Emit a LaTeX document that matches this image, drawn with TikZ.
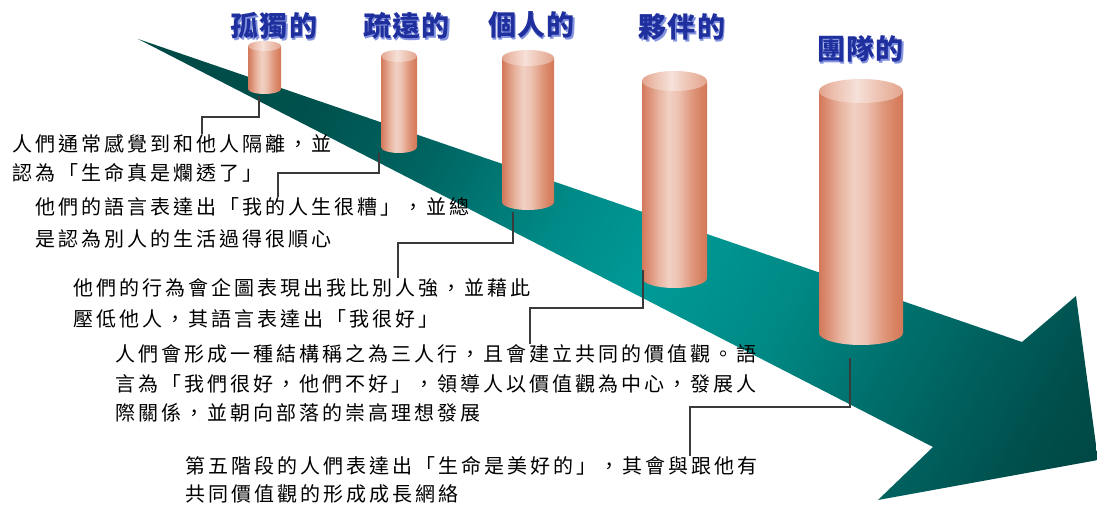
\documentclass[tikz,border=0pt]{standalone}
\usepackage{fontspec}
\newfontfamily\cjkbody{Noto Sans CJK TC}[LetterSpace=15]
\newfontfamily\cjkhead{Noto Sans CJK TC}[LetterSpace=4]

% teal ramp for the big arrow
\definecolor{tealA}{HTML}{004A46}
\definecolor{tealB}{HTML}{00524E}
\definecolor{tealC}{HTML}{006562}
\definecolor{tealD}{HTML}{008A87}
\definecolor{tealE}{HTML}{009A96}
\definecolor{tealDD}{HTML}{008884}
\definecolor{tealF}{HTML}{007370}
\definecolor{tealG}{HTML}{00605D}
\definecolor{tealH}{HTML}{004E4B}
\definecolor{tealI}{HTML}{00413F}
% salmon ramp for the columns
\definecolor{cylA}{HTML}{D3785B}
\definecolor{cylB}{HTML}{DC8F75}
\definecolor{cylC}{HTML}{E8B49F}
\definecolor{cylD}{HTML}{F1D0C3}
\definecolor{cylE}{HTML}{EDC3B3}
\definecolor{cylF}{HTML}{E09A80}
\definecolor{cylG}{HTML}{D7805F}
\definecolor{capA}{HTML}{E3A48D}
\definecolor{capB}{HTML}{EEC3B3}
\definecolor{capC}{HTML}{F6E1D9}
\definecolor{capD}{HTML}{EEC4B4}
% lettering
\definecolor{headblue}{HTML}{1F2F9E}
\definecolor{headglow}{HTML}{8393DE}
\definecolor{connc}{HTML}{3A3A3A}

\pgfdeclarehorizontalshading{arrowshade}{100bp}{color(0bp)=(tealA); color(18bp)=(tealA); color(28bp)=(tealB); color(36bp)=(tealC); color(45bp)=(tealD); color(52bp)=(tealE); color(61bp)=(tealDD); color(67bp)=(tealF); color(73bp)=(tealG); color(79bp)=(tealH); color(87bp)=(tealI); color(100bp)=(tealI)}
\pgfdeclarehorizontalshading{cylbody}{100bp}{color(0bp)=(cylA); color(25bp)=(cylA); color(30bp)=(cylB); color(37.5bp)=(cylC); color(45.5bp)=(cylD); color(52.5bp)=(cylE); color(62.5bp)=(cylF); color(71bp)=(cylG); color(75bp)=(cylA); color(100bp)=(cylA)}
\pgfdeclarehorizontalshading{cylcap}{100bp}{color(0bp)=(capA); color(25bp)=(capA); color(35bp)=(capB); color(47.5bp)=(capC); color(60bp)=(capD); color(75bp)=(capA); color(100bp)=(capA)}

% column: centre x, top y, bottom y, x radius, y radius, name
\newcommand\column[6]{%
  \shade[shading=cylbody] (#1-#4,#2+#5) -- (#1-#4,#3-#5)
    arc[start angle=180, end angle=0, x radius=#4, y radius=#5] -- (#1+#4,#2+#5) -- cycle;
  \shade[shading=cylcap] (#1,#2+#5) ellipse [x radius=#4, y radius=#5];
  \coordinate (#6) at (#1,#3);
}

\tikzset{
  conn/.style={draw=connc, line width=1.2pt},
  bodytext/.style={anchor=west, inner sep=0pt, text=black, font=\cjkbody\fontsize{20}{24}\selectfont},
  headtext/.style={inner sep=0pt, text=headblue, font=\cjkhead\bfseries\fontsize{28}{32}\selectfont},
  headshadow/.style={headtext, text=headglow},
}

\begin{document}
\begin{tikzpicture}[x=1pt, y=-1pt]
\useasboundingbox[fill=white] (0,0) rectangle (1097,508);

% the arrow running from the thin tail to the head
\shade[shading=arrowshade, shading angle=-30]
  (138,39) -- (1022,342) -- (1076,296) -- (1098,460) -- (878,500) -- (933,447) -- cycle;

% columns
\column{264.5}{41}{94}{16.5}{5}{col1}
\column{399}{50}{153}{18}{6}{col2}
\column{528}{50}{210}{26}{8}{col3}
\column{674.5}{71}{288}{32.5}{10}{col4}
\column{861}{79}{345}{42}{12}{col5}

% headings
\foreach \n/\x/\y/\t in {1/274/26/孤獨的, 2/406.5/26/疏遠的, 3/531.5/25/個人的, 4/682/27/夥伴的, 5/860.5/49/團隊的}{
  \node[headshadow] (h\n s) at (\x+1.5,\y+1.5) {\t};
  \node[headtext] (h\n) at (\x,\y) {\t};
}

% descriptions
\node[bodytext] (b1a) at (12,143.5) {人們通常感覺到和他人隔離，並};
\node[bodytext] (b1b) at (12,172.5) {認為「生命真是爛透了」};
\node[bodytext] (b2a) at (35,207) {他們的語言表達出「我的人生很糟」，並總};
\node[bodytext] (b2b) at (35,238.5) {是認為別人的生活過得很順心};
\node[bodytext] (b3a) at (73,288) {他們的行為會企圖表現出我比別人強，並藉此};
\node[bodytext] (b3b) at (73,319) {壓低他人，其語言表達出「我很好」};
\node[bodytext] (b4a) at (115,354) {人們會形成一種結構稱之為三人行，且會建立共同的價值觀。語};
\node[bodytext] (b4b) at (115,384) {言為「我們很好，他們不好」，領導人以價值觀為中心，發展人};
\node[bodytext] (b4c) at (115,413) {際關係，並朝向部落的崇高理想發展};
\node[bodytext] (b5a) at (185,466) {第五階段的人們表達出「生命是美好的」，其會與跟他有};
\node[bodytext] (b5b) at (185,494) {共同價值觀的形成成長網絡};

% leader lines from each column down to its description
\coordinate (foot1) at (259,96);  \coordinate (bend1) at (202,117);
\coordinate (foot2) at (379,153); \coordinate (bend2) at (278,173);
\coordinate (foot3) at (513,212); \coordinate (bend3) at (398,243);
\coordinate (foot4) at (643,270); \coordinate (bend4) at (530,308);
\coordinate (foot5) at (850,358); \coordinate (bend5) at (690,407);

\draw[conn] (foot1) |- (bend1) -- (bend1 |- b1a.north);
\draw[conn] (foot2) |- (bend2) -- (bend2 |- b2a.north);
\draw[conn] (foot3) |- (bend3) -- (bend3 |- b3a.north);
\draw[conn] (foot4) |- (bend4) -- (bend4 |- b4a.north);
\draw[conn] (foot5) |- (bend5) -- (bend5 |- b5a.north);
\end{tikzpicture}
\end{document}
